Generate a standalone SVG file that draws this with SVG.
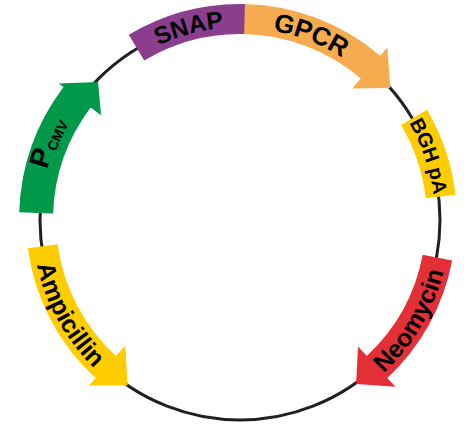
<svg xmlns="http://www.w3.org/2000/svg" width="464" height="427" viewBox="0 0 464 427">
<style>
.lbl{font-family:"Liberation Sans",Arial,sans-serif;font-weight:bold;fill:#000;}
.band{stroke:none;}
</style>
<defs>
<path id="pSNAP" d="M 103.88 83.88 A 192.5 192.5 0 0 1 289.82 34.06"/>
<path id="pGPCR" d="M 209.96 30.36 A 192 192 0 0 1 389.21 99.17"/>
<path id="pBGH" d="M 368.96 73.73 A 195 195 0 0 1 431.15 258.54"/>
<path id="pNEO" d="M 343.41 402.78 A 210 210 0 0 0 449.99 221.83"/>
<path id="pAMP" d="M 32.03 216.37 A 208 208 0 0 0 132.87 398.29"/>
<path id="pCMV" d="M 42.94 247.69 A 197 197 0 0 1 117.48 63.19"/>
</defs>
<g id="connectors">
<circle cx="240" cy="220" r="200" fill="none" stroke="#231f20" stroke-width="3"/>
</g>
<g id="GPCR">
<path class="band" fill="#f6ac4e" d="M 243.77 4.03 A 216 216 0 0 1 380.27 55.75 L 387.41 47.39 L 390.26 88.0 L 352.35 88.45 L 360.79 78.57 A 186 186 0 0 0 243.25 34.03 Z"/>
<text class="lbl" font-size="26"><textPath href="#pGPCR" startOffset="50%" text-anchor="middle">GPCR</textPath></text>
</g>
<g id="SNAP">
<path class="band" fill="#8b3e8e" d="M 128.76 34.85 A 216 216 0 0 1 244.90 4.06 L 244.22 34.05 A 186 186 0 0 0 144.21 60.56 Z"/>
<text class="lbl" font-size="24.5"><textPath href="#pSNAP" startOffset="50%" text-anchor="middle">SNAP</textPath></text>
</g>
<g id="BGHpA">
<path class="band" fill="#ffcc00" d="M 426.97 109.87 A 217 217 0 0 1 455.52 194.68 L 425.72 198.18 A 187 187 0 0 0 401.12 125.10 Z"/>
<text class="lbl" font-size="20"><textPath href="#pBGH" startOffset="50%" text-anchor="middle">BGH pA</textPath></text>
</g>
<g id="Neomycin">
<path class="band" fill="#e42f37" d="M 452.17 260.47 A 216 216 0 0 1 387.31 377.97 L 395.50 386.75 L 356.14 384.04 L 357.99 346.52 L 366.85 356.03 A 186 186 0 0 0 422.71 254.85 Z"/>
<text class="lbl" font-size="25"><textPath href="#pNEO" startOffset="50%" text-anchor="middle">Neomycin</textPath></text>
</g>
<g id="Ampicillin">
<path class="band" fill="#ffcc00" d="M 27.88 248.30 A 214 214 0 0 0 95.70 378.03 L 88.96 385.42 L 127.58 385.42 L 125.37 345.54 L 115.93 355.88 A 184 184 0 0 1 57.62 244.34 Z"/>
<text class="lbl" font-size="25"><textPath href="#pAMP" startOffset="50%" text-anchor="middle">Ampicillin</textPath></text>
</g>
<g id="PCMV">
<path class="band" fill="#00994a" d="M 19.13 212.29 A 221 221 0 0 1 63.50 87.00 L 58.71 83.39 L 98.05 81.96 L 101.04 115.28 L 90.65 107.46 A 187 187 0 0 0 53.11 213.47 Z"/>
<text class="lbl" font-size="28"><textPath href="#pCMV" startOffset="50%" text-anchor="middle">P<tspan font-size="14" dx="1" dy="3">CMV</tspan></textPath></text>
</g>
</svg>
